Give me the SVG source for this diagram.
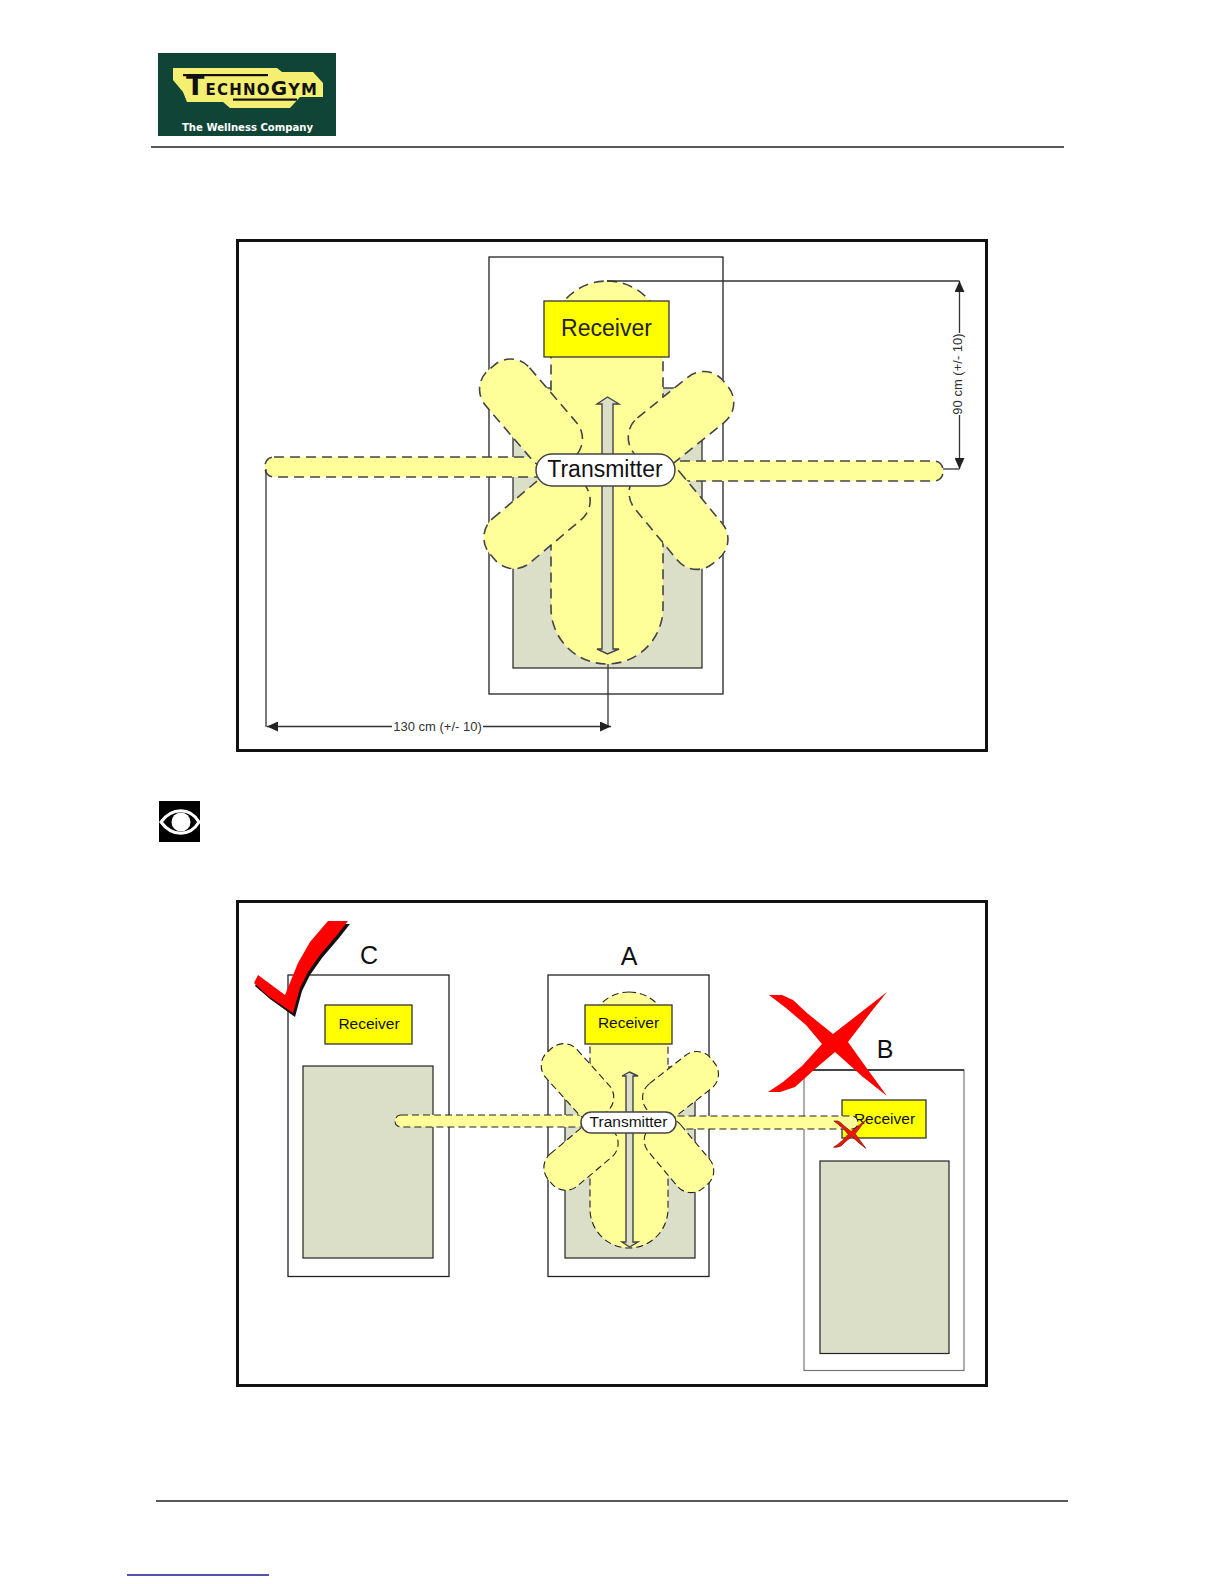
<svg xmlns="http://www.w3.org/2000/svg" xmlns:xlink="http://www.w3.org/1999/xlink" width="1224" height="1584" viewBox="0 0 1224 1584">
<style>
text{font-family:"Liberation Sans",Arial,sans-serif;fill:#111}
.frame{fill:#fff;stroke:#111;stroke-width:3}
.outer{fill:#fff;stroke:#222;stroke-width:1.3}
.bed{fill:#dcdfc8;stroke:#222;stroke-width:1.2}
.rx{fill:#ff0;stroke:#333;stroke-width:1.3}
.z1{fill:#ffff99;stroke:#444;stroke-width:1.6;stroke-dasharray:10 6}
.z2{fill:#ffff99;stroke:#222;stroke-width:1.1;stroke-dasharray:7 4}
.tx{fill:#fff;stroke:#444;stroke-width:1.5}
.shaft{fill:#dcdfc8;stroke:#444;stroke-width:1.4}
.dim{fill:none;stroke:#333;stroke-width:1.3}
.rule{stroke:#222;stroke-width:1.3}
.lbl{font-size:25px;text-anchor:middle}
.r1{font-size:23px;text-anchor:middle;fill:#222}
.r2{font-size:15.5px;text-anchor:middle}
.d{font-size:13px;fill:#333;text-anchor:middle}
.logo-t{font-family:"DejaVu Sans",sans-serif;font-weight:700}
</style>
<defs>
<marker id="arr" markerWidth="12" markerHeight="10" refX="11" refY="5" orient="auto-start-reverse" markerUnits="userSpaceOnUse"><path d="M0 0L11 5L0 10Z" fill="#222"/></marker>
<polygon id="xmark" points="-66,-48 -53,-48 -42,-43 -28,-30 -2,-9 52,-51 36,-31 13,-1 33,27 52,53 28,34 0,9 -20,26 -40,44 -55,49 -67,49 -52,39 -33,23 -13,1 -29,-18 -49,-35"/>
</defs>
<rect width="1224" height="1584" fill="#fff"/>

<g id="logo">
<rect x="158" y="53" width="178" height="83" fill="#0f4436"/>
<polygon points="173,68 277,68 282,72 313,72 323,83 323,97 300,97 290,108 230,108 223,102 187,102 183,92 173,80" fill="#f4ef70"/>
<rect x="183" y="74" width="85" height="2.200" fill="#111"/>
<rect x="233" y="98.500" width="64" height="2.200" fill="#111"/>
<text class="logo-t" x="186" y="95" textLength="131" lengthAdjust="spacing"><tspan font-size="27">T</tspan><tspan font-size="15">ECHNO</tspan><tspan font-size="20">G</tspan><tspan font-size="16">YM</tspan></text>
<text class="logo-t" x="182" y="131" font-size="10.500" textLength="131" lengthAdjust="spacingAndGlyphs" style="fill:#fff">The Wellness Company</text>
</g>
<line id="header-rule" class="rule" x1="151" y1="147" x2="1064" y2="147"/>

<rect id="frame-top" class="frame" x="237.500" y="240.500" width="749" height="510"/>
<g id="top-machine">
<rect class="outer" x="489" y="257" width="234" height="437"/>
<rect class="bed" x="513" y="388" width="189" height="280"/>
</g>
<g id="top-beam-center"><rect class="z1" x="551" y="281" width="112" height="383" rx="56"/></g>
<g id="top-receiver">
<rect class="rx" x="544" y="301" width="125" height="56"/>
<text class="r1" x="606.500" y="336">Receiver</text>
</g>
<g id="top-beam-left"><rect class="z1" x="265" y="457" width="290" height="20" rx="9"/></g>
<g id="top-beam-right"><rect class="z1" x="655" y="461" width="288" height="20" rx="9"/></g>
<g id="top-petals">
<rect class="z1" x="-61" y="-29" width="122" height="58" rx="25" transform="translate(531 414) rotate(49.400)"/>
<rect class="z1" x="-57.500" y="-29" width="115" height="58" rx="25" transform="translate(681 420) rotate(-38.900)"/>
<rect class="z1" x="-58.500" y="-29" width="117" height="58" rx="25" transform="translate(537 519) rotate(-40.200)"/>
<rect class="z1" x="-58.500" y="-29" width="117" height="58" rx="25" transform="translate(678.500 516) rotate(50.400)"/>
</g>
<polygon id="top-travel-arrow" class="shaft" points="607.500,397 619,404 613,404 613,649 619,649 607.500,654 597,649 602,649 602,404 597,404"/>
<g id="top-transmitter">
<rect class="tx" x="536" y="454" width="139" height="32" rx="16"/>
<text x="605" y="477" font-size="23" text-anchor="middle">Transmitter</text>
</g>
<g id="top-dimensions">
<path class="dim" d="M607 281H959.500"/>
<path class="dim" d="M959.500 333V281" marker-end="url(#arr)"/>
<path class="dim" d="M959.500 415V469" marker-end="url(#arr)"/>
<path class="dim" d="M943 469H959.500"/>
<path class="dim" d="M266 469V727"/>
<path class="dim" d="M608 664V727"/>
<path class="dim" d="M392 726.500H267" marker-end="url(#arr)"/>
<path class="dim" d="M483 726.500H611" marker-end="url(#arr)"/>
<text class="d" x="437.500" y="730.500">130 cm (+/- 10)</text>
<text class="d" transform="translate(962 374) rotate(-90)">90 cm (+/- 10)</text>
</g>

<g id="eye-icon">
<rect x="159" y="801" width="41" height="41" fill="#000"/>
<path d="M161 822C172 807 190 807 199 822C190 837 172 837 161 822Z" fill="#000" stroke="#fff" stroke-width="3"/>
<circle cx="181" cy="822" r="9.500" fill="#fff"/>
</g>

<rect id="frame-bottom" class="frame" x="237.500" y="901.500" width="749" height="484"/>
<g id="machine-c">
<rect class="outer" x="288" y="975" width="161" height="301.500"/>
<rect class="bed" x="303" y="1066" width="130" height="192"/>
<rect class="rx" x="325" y="1005" width="87" height="39"/>
<text class="r2" x="369" y="1029">Receiver</text>
<text class="lbl" x="369" y="964">C</text>
</g>
<g id="check-mark">
<polygon points="255,986 259,978 287,998 300,966 312,945 330,924 350,924 339,938 322,958 310,975 302,991 295,1017 270,999" fill="#111"/>
<polygon points="254,983 258,975 285,995 298,963 310,942 328,921 348,921 337,935 320,955 308,972 300,988 293,1013 268,996" fill="#f00"/>
</g>
<g id="machine-a">
<rect class="outer" x="548" y="975" width="161" height="301.500"/>
<rect class="bed" x="565" y="1067" width="130" height="191"/>
<rect class="z2" x="590" y="992" width="78" height="256" rx="39"/>
<rect class="rx" x="585" y="1005" width="87" height="39"/>
<text class="r2" x="628.500" y="1028">Receiver</text>
<text class="lbl" x="629" y="965">A</text>
</g>
<g id="machine-b">
<rect x="804" y="1070" width="160" height="300.500" fill="#fff" stroke="#777" stroke-width="1.200"/>
<path d="M804 1070H964" stroke="#222" stroke-width="1.300"/>
<rect class="bed" x="820" y="1161" width="129" height="192.500"/>
<rect class="rx" x="842" y="1100" width="84" height="38"/>
<text class="r2" x="884.500" y="1124">Receiver</text>
<text class="lbl" x="885" y="1058">B</text>
</g>
<g id="beams">
<rect class="z2" x="395" y="1115" width="200" height="12" rx="6"/>
<rect class="z2" x="660" y="1116" width="198" height="13" rx="6.500"/>
</g>
<g id="petals-a">
<rect class="z2" x="-42" y="-21" width="84" height="42" rx="18" transform="translate(577.500 1081.500) rotate(48)"/>
<rect class="z2" x="-41" y="-21" width="82" height="42" rx="18" transform="translate(680.500 1086) rotate(-38)"/>
<rect class="z2" x="-40.500" y="-21" width="81" height="42" rx="18" transform="translate(581 1155.500) rotate(-40)"/>
<rect class="z2" x="-40.500" y="-21" width="81" height="42" rx="18" transform="translate(679 1155.500) rotate(50)"/>
</g>
<polygon id="travel-arrow-a" class="shaft" points="629.500,1072 638,1076 633,1076 633,1242 638,1242 629.500,1247 622,1242 626,1242 626,1076 622,1076"/>
<g id="transmitter-a">
<rect class="tx" x="581" y="1112" width="95" height="21" rx="10.500"/>
<text x="628.500" y="1127" font-size="15.500" text-anchor="middle">Transmitter</text>
</g>
<use id="big-x" xlink:href="#xmark" href="#xmark" transform="translate(835 1043)" fill="#f00"/>
<use id="small-x" xlink:href="#xmark" href="#xmark" transform="translate(851.700 1134) scale(.27)" fill="#e8180c" stroke="#8a1a10" stroke-width="3"/>

<line id="footer-rule" class="rule" x1="156" y1="1501" x2="1068" y2="1501"/>
<line id="footer-link" x1="127" y1="1575" x2="269" y2="1575" stroke="#1a1a8c" stroke-width="1.300"/>
</svg>
